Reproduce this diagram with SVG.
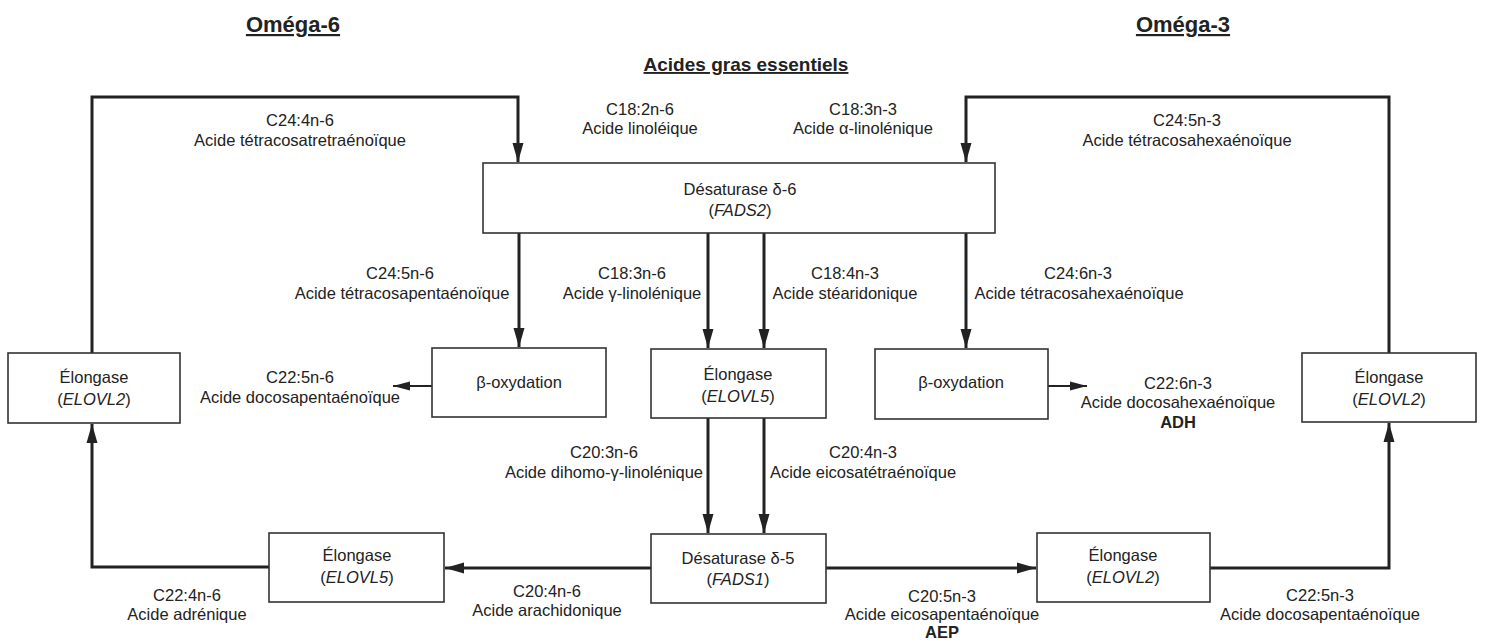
<svg xmlns="http://www.w3.org/2000/svg" width="1486" height="641" viewBox="0 0 1486 641">
<style>
text{font-family:"Liberation Sans",Arial,sans-serif;fill:#222;text-anchor:middle}
.t{font-size:16.5px}
.h{font-size:22px;font-weight:bold;text-decoration:underline}
.h2{font-size:19px;font-weight:bold;text-decoration:underline}
.b{font-weight:bold}
.box{fill:#fff;stroke:#333;stroke-width:1.6}
.c{fill:none;stroke:#222;stroke-width:3}
.c2{fill:none;stroke:#222;stroke-width:2}
</style>
<defs>
<marker id="ah" markerUnits="userSpaceOnUse" markerWidth="20" markerHeight="12" refX="19" refY="6" orient="auto">
<path d="M0,0.5 L19,6 L0,11.5 z" fill="#222"/>
</marker>
<marker id="ah2" markerUnits="userSpaceOnUse" markerWidth="18" markerHeight="10" refX="17" refY="5" orient="auto">
<path d="M0,0.5 L17,5 L0,9.5 z" fill="#222"/>
</marker>
</defs>
<rect width="1486" height="641" fill="#fff"/>

<text class="h" x="293" y="32">Oméga-6</text>
<text class="h" x="1183" y="32">Oméga-3</text>
<text class="h2" x="746" y="71">Acides gras essentiels</text>

<g id="connectors">
<path class="c" d="M92,353 V97 H518 V162" marker-end="url(#ah)"/>
<path class="c" d="M1389,353 V97 H966 V162" marker-end="url(#ah)"/>
<path class="c" d="M519,233 V347" marker-end="url(#ah)"/>
<path class="c" d="M708,233 V348" marker-end="url(#ah)"/>
<path class="c" d="M764,233 V348" marker-end="url(#ah)"/>
<path class="c" d="M966,233 V348" marker-end="url(#ah)"/>
<path class="c2" d="M432,386 H393" marker-end="url(#ah2)"/>
<path class="c2" d="M1048,386 H1087" marker-end="url(#ah2)"/>
<path class="c" d="M708,418 V533" marker-end="url(#ah)"/>
<path class="c" d="M764,418 V533" marker-end="url(#ah)"/>
<path class="c" d="M651,568 H445" marker-end="url(#ah)"/>
<path class="c" d="M826,568 H1036" marker-end="url(#ah)"/>
<path class="c" d="M269,567 H92 V424" marker-end="url(#ah)"/>
<path class="c" d="M1210,568 H1389 V423" marker-end="url(#ah)"/>
</g>

<g id="d6">
<rect class="box" x="483" y="163" width="512" height="70"/>
<text class="t" x="740" y="195">Désaturase δ-6</text>
<text class="t" x="740" y="216">(<tspan font-style="italic">FADS2</tspan>)</text>
</g>
<g id="box-elovl2-left">
<rect class="box" x="8" y="353" width="172" height="70"/>
<text class="t" x="94" y="383">Élongase</text>
<text class="t" x="94" y="405">(<tspan font-style="italic">ELOVL2</tspan>)</text>
</g>
<g id="box-box-left">
<rect class="box" x="432" y="348" width="174" height="69"/>
<text class="t" x="519" y="388">β-oxydation</text>
</g>
<g id="box-elovl5-mid">
<rect class="box" x="651" y="349" width="175" height="69"/>
<text class="t" x="738" y="380">Élongase</text>
<text class="t" x="738" y="402">(<tspan font-style="italic">ELOVL5</tspan>)</text>
</g>
<g id="box-box-right">
<rect class="box" x="875" y="349" width="173" height="70"/>
<text class="t" x="961" y="388">β-oxydation</text>
</g>
<g id="box-elovl2-right">
<rect class="box" x="1302" y="353" width="174" height="69"/>
<text class="t" x="1389" y="383">Élongase</text>
<text class="t" x="1389" y="405">(<tspan font-style="italic">ELOVL2</tspan>)</text>
</g>
<g id="box-elovl5-bottom">
<rect class="box" x="269" y="533" width="175" height="69"/>
<text class="t" x="357" y="561">Élongase</text>
<text class="t" x="357" y="583">(<tspan font-style="italic">ELOVL5</tspan>)</text>
</g>
<g id="d5">
<rect class="box" x="651" y="534" width="175" height="69"/>
<text class="t" x="738" y="564">Désaturase δ-5</text>
<text class="t" x="738" y="585">(<tspan font-style="italic">FADS1</tspan>)</text>
</g>
<g id="box-elovl2-bottom">
<rect class="box" x="1037" y="533" width="173" height="69"/>
<text class="t" x="1123" y="561">Élongase</text>
<text class="t" x="1123" y="583">(<tspan font-style="italic">ELOVL2</tspan>)</text>
</g>

<g id="labels">
<text class="t" x="300" y="126">C24:4n-6</text>
<text class="t" x="300" y="146">Acide tétracosatretraénoïque</text>
<text class="t" x="640" y="115">C18:2n-6</text>
<text class="t" x="640" y="134">Acide linoléique</text>
<text class="t" x="863" y="115">C18:3n-3</text>
<text class="t" x="863" y="134">Acide α-linolénique</text>
<text class="t" x="1187" y="126">C24:5n-3</text>
<text class="t" x="1187" y="146">Acide tétracosahexaénoïque</text>

<text class="t" x="400" y="279">C24:5n-6</text>
<text class="t" x="402" y="299">Acide tétracosapentaénoïque</text>
<text class="t" x="632" y="279">C18:3n-6</text>
<text class="t" x="632" y="299">Acide γ-linolénique</text>
<text class="t" x="845" y="279">C18:4n-3</text>
<text class="t" x="845" y="299">Acide stéaridonique</text>
<text class="t" x="1078" y="279">C24:6n-3</text>
<text class="t" x="1079" y="299">Acide tétracosahexaénoïque</text>

<text class="t" x="300" y="383">C22:5n-6</text>
<text class="t" x="300" y="403">Acide docosapentaénoïque</text>
<text class="t" x="1178" y="389">C22:6n-3</text>
<text class="t" x="1178" y="408">Acide docosahexaénoïque</text>
<text class="t b" x="1178" y="428">ADH</text>

<text class="t" x="604" y="458">C20:3n-6</text>
<text class="t" x="604" y="478">Acide dihomo-γ-linolénique</text>
<text class="t" x="863" y="458">C20:4n-3</text>
<text class="t" x="863" y="478">Acide eicosatétraénoïque</text>

<text class="t" x="187" y="601">C22:4n-6</text>
<text class="t" x="187" y="620">Acide adrénique</text>
<text class="t" x="547" y="597">C20:4n-6</text>
<text class="t" x="547" y="616">Acide arachidonique</text>
<text class="t" x="942" y="602">C20:5n-3</text>
<text class="t" x="942" y="620">Acide eicosapentaénoïque</text>
<text class="t b" x="942" y="638">AEP</text>
<text class="t" x="1320" y="601">C22:5n-3</text>
<text class="t" x="1320" y="620">Acide docosapentaénoïque</text>
</g>
</svg>
